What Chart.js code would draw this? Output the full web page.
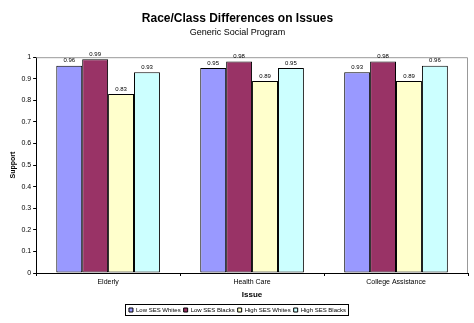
<!DOCTYPE html>
<html>
<head>
<meta charset="UTF-8">
<title>Race/Class Differences on Issues</title>
<script src="https://cdn.jsdelivr.net/npm/chart.js@4/dist/chart.umd.min.js"></script>
<style>
    html, body { margin: 0; padding: 0; background: #fff; }
    #holder { width: 474px; height: 323px; }
</style>
</head>
<body>
<div id="holder"><canvas id="chart-area"></canvas></div>
<script>
    var issues = ['Elderly', 'Health Care', 'College Assistance'];
    var groups = ['Low SES Whites', 'Low SES Blacks', 'High SES Whites', 'High SES Blacks'];
    var lowWhites = [0.96, 0.95, 0.93];
    var lowBlacks = [0.99, 0.98, 0.98];
    var highWhites = [0.83, 0.89, 0.89];
    var highBlacks = [0.93, 0.95, 0.96];
    var colors = ['#9999FF', '#993366', '#FFFFCC', '#CCFFFF'];
    var font = 'Liberation Sans, Arial, sans-serif';

    // grey frame around plot area (top/right edges)
    var frame = {
        id: 'frame',
        beforeDatasetsDraw: function (chart) {
            var a = chart.chartArea, c = chart.ctx;
            c.save();
            c.strokeStyle = '#999';
            c.lineWidth = 1;
            c.beginPath();
            c.moveTo(a.left, a.top + 0.5);
            c.lineTo(a.right - 0.5, a.top + 0.5);
            c.lineTo(a.right - 0.5, a.bottom);
            c.stroke();
            c.restore();
        },
        afterDraw: function (chart) {
            // box round legend items
            var lg = chart.legend, c = chart.ctx;
            if (!lg.legendHitBoxes.length) return;
            var l = 1e9, r = 0, t = 1e9, b = 0;
            lg.legendHitBoxes.forEach(function (h) {
                l = Math.min(l, h.left); r = Math.max(r, h.left + h.width);
                t = Math.min(t, h.top); b = Math.max(b, h.top + h.height);
            });
            c.save();
            c.strokeStyle = '#000';
            c.lineWidth = 1;
            c.strokeRect(Math.round(l) - 3.5, Math.round(t) - 2.5, Math.round(r - l) + 6, Math.round(b - t) + 5);
            c.restore();
        }
    };

    // value labels above each bar
    var valueLabels = {
        id: 'valueLabels',
        afterDatasetsDraw: function (chart) {
            var c = chart.ctx;
            c.save();
            c.font = '6px ' + font;
            c.fillStyle = '#000';
            c.textAlign = 'center';
            c.textBaseline = 'bottom';
            chart.data.datasets.forEach(function (ds, i) {
                chart.getDatasetMeta(i).data.forEach(function (bar, j) {
                    c.fillText(ds.data[j].toFixed(2), bar.x, bar.y - 2);
                });
            });
            c.restore();
        }
    };

    var series = [lowWhites, lowBlacks, highWhites, highBlacks];
    var datasets = [];
    for (var i = 0; i < groups.length; i++) {
        datasets.push({
            label: groups[i],
            data: series[i],
            backgroundColor: colors[i],
            borderColor: '#000',
            borderWidth: 1,
            borderSkipped: false,
            categoryPercentage: 0.72,
            barPercentage: 1
        });
    }

    var ctx = document.getElementById('chart-area').getContext('2d');
    new Chart(ctx, {
        type: 'bar',
        data: { labels: issues, datasets: datasets },
        options: {
            responsive: true,
            maintainAspectRatio: false,
            animation: false,
            layout: { padding: { left: 7, right: 6, top: 7, bottom: 0 } },
            plugins: {
                title: {
                    display: true,
                    text: 'Race/Class Differences on Issues',
                    color: '#000',
                    font: { family: font, size: 12, weight: 'bold' },
                    padding: { top: 4, bottom: 2 }
                },
                subtitle: {
                    display: true,
                    text: 'Generic Social Program',
                    color: '#000',
                    font: { family: font, size: 9 },
                    padding: { bottom: 19 }
                },
                legend: {
                    position: 'bottom',
                    labels: {
                        color: '#000',
                        font: { family: font, size: 6 },
                        boxWidth: 4,
                        boxHeight: 4,
                        padding: 3
                    }
                },
                tooltip: { enabled: false }
            },
            scales: {
                x: {
                    grid: { display: true, drawOnChartArea: false, offset: true, tickLength: 3, color: '#000' },
                    border: { color: '#000' },
                    ticks: { color: '#000', font: { family: font, size: 7 }, padding: 2 },
                    title: {
                        display: true, text: 'Issue', color: '#000',
                        font: { family: font, size: 8, weight: 'bold' }, padding: { top: 2, bottom: 4 }
                    }
                },
                y: {
                    min: 0, max: 1,
                    grid: { display: true, drawOnChartArea: false, tickLength: 3, color: '#000' },
                    border: { color: '#000' },
                    ticks: { stepSize: 0.1, color: '#000', font: { family: font, size: 7 }, padding: 2,
                        callback: function (v) { return Math.round(v * 10) / 10; } },
                    title: {
                        display: true, text: 'Support', color: '#000',
                        font: { family: font, size: 7, weight: 'bold' }, padding: 2
                    }
                }
            }
        },
        plugins: [frame, valueLabels]
    });
</script>
</body>
</html>
